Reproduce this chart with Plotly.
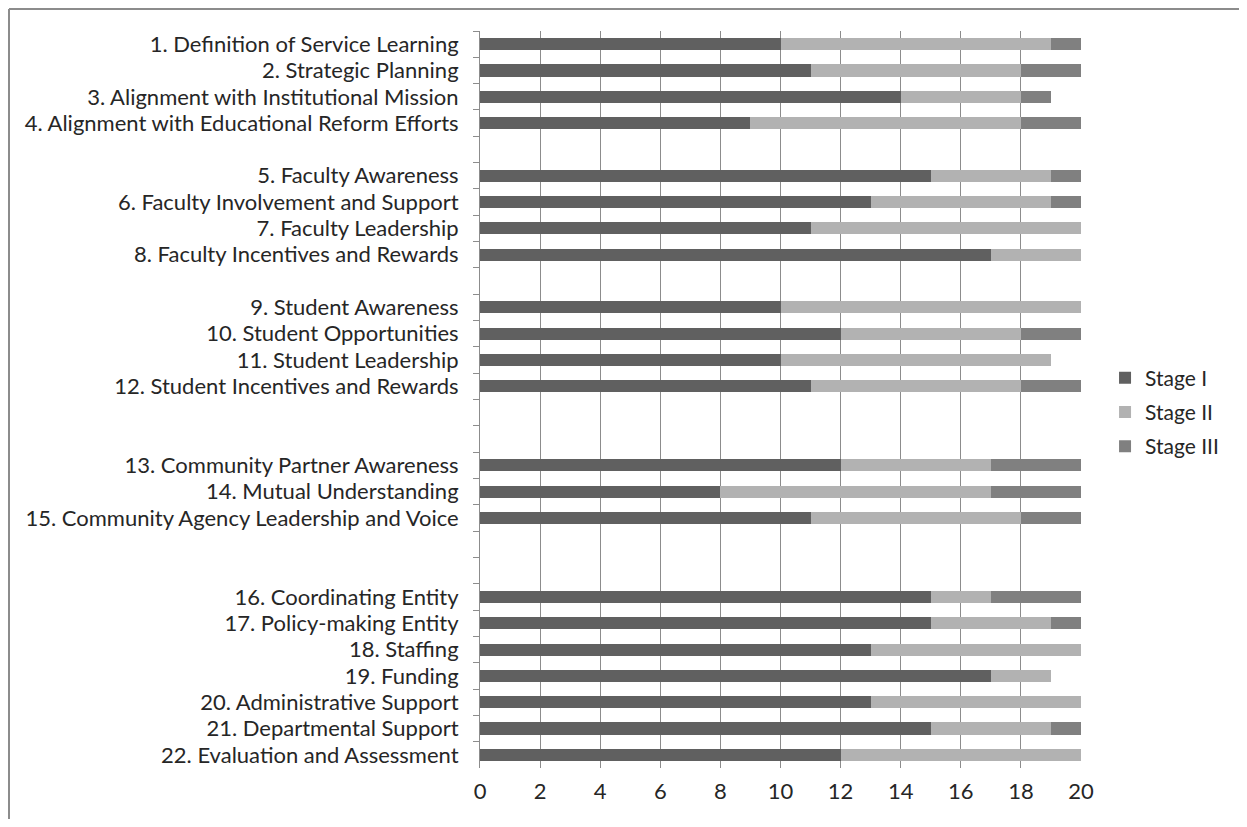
import plotly.graph_objects as go

categories = [
    "1. Definition of Service Learning",
    "2. Strategic Planning",
    "3. Alignment with Institutional Mission",
    "4. Alignment with Educational Reform Efforts",
    " ",
    "5. Faculty Awareness",
    "6. Faculty Involvement and Support",
    "7. Faculty Leadership",
    "8. Faculty Incentives and Rewards",
    "  ",
    "9. Student Awareness",
    "10. Student Opportunities",
    "11. Student Leadership",
    "12. Student Incentives and Rewards",
    "   ",
    "    ",
    "13. Community Partner Awareness",
    "14. Mutual Understanding",
    "15. Community Agency Leadership and Voice",
    "     ",
    "      ",
    "16. Coordinating Entity",
    "17. Policy-making Entity",
    "18. Staffing",
    "19. Funding",
    "20. Administrative Support",
    "21. Departmental Support",
    "22. Evaluation and Assessment",
]

stage1 = [10, 11, 14, 9, None, 15, 13, 11, 17, None, 10, 12, 10, 11, None, None,
          12, 8, 11, None, None, 15, 15, 13, 17, 13, 15, 12]
stage2 = [9, 7, 4, 9, None, 4, 6, 9, 3, None, 10, 6, 9, 7, None, None,
          5, 9, 7, None, None, 2, 4, 7, 2, 7, 4, 8]
stage3 = [1, 2, 1, 2, None, 1, 1, 0, 0, None, 0, 2, 0, 2, None, None,
          3, 3, 2, None, None, 3, 1, 0, 0, 0, 1, 0]

series_names = ["Stage I", "Stage II", "Stage III"]
colors = ["#606060", "#b2b2b2", "#808080"]

fig = go.Figure()
for name, vals, col in zip(series_names, [stage1, stage2, stage3], colors):
    fig.add_trace(go.Bar(
        y=categories, x=vals, name=name, orientation="h",
        marker=dict(color=col, line=dict(width=0)),
        legendgroup=name,
    ))

font_family = "Lato, 'Open Sans', sans-serif"

fig.update_layout(
    barmode="stack",
    bargap=0.54,
    width=1231, height=811,
    margin=dict(l=472, r=158, t=23, b=51),
    paper_bgcolor="white",
    plot_bgcolor="white",
    font=dict(family=font_family, size=22, color="#262626"),
    showlegend=True,
    legend=dict(
        x=1.04, xanchor="left", y=0.483, yanchor="middle",
        traceorder="grouped", tracegroupgap=4,
        font=dict(size=21, color="#262626"),
        itemwidth=30,
    ),
    xaxis=dict(
        range=[0, 20], dtick=2, tick0=0,
        showgrid=True, gridcolor="#8c8c8c", gridwidth=1,
        zeroline=False, showline=False,
        ticks="", tickfont=dict(size=22), ticklabelstandoff=8,
    ),
    yaxis=dict(
        categoryorder="array", categoryarray=categories,
        autorange="reversed",
        showline=True, linecolor="#8c8c8c", linewidth=1,
        ticks="outside", ticklen=6, tickcolor="#8c8c8c",
        tickson="boundaries", ticklabelstandoff=16,
        showgrid=False,
        tickfont=dict(size=22),
    ),
    shapes=[
        dict(type="line", xref="paper", yref="paper",
             x0=-0.7837, x1=1.3, y0=1.0298, y1=1.0298,
             line=dict(color="#8c8c8c", width=2), layer="above"),
        dict(type="line", xref="paper", yref="paper",
             x0=-0.7837, x1=-0.7837, y0=-0.1, y1=1.0298,
             line=dict(color="#8c8c8c", width=2), layer="above"),
    ],
)

fig.write_html("out.html", config={"displayModeBar": False})
